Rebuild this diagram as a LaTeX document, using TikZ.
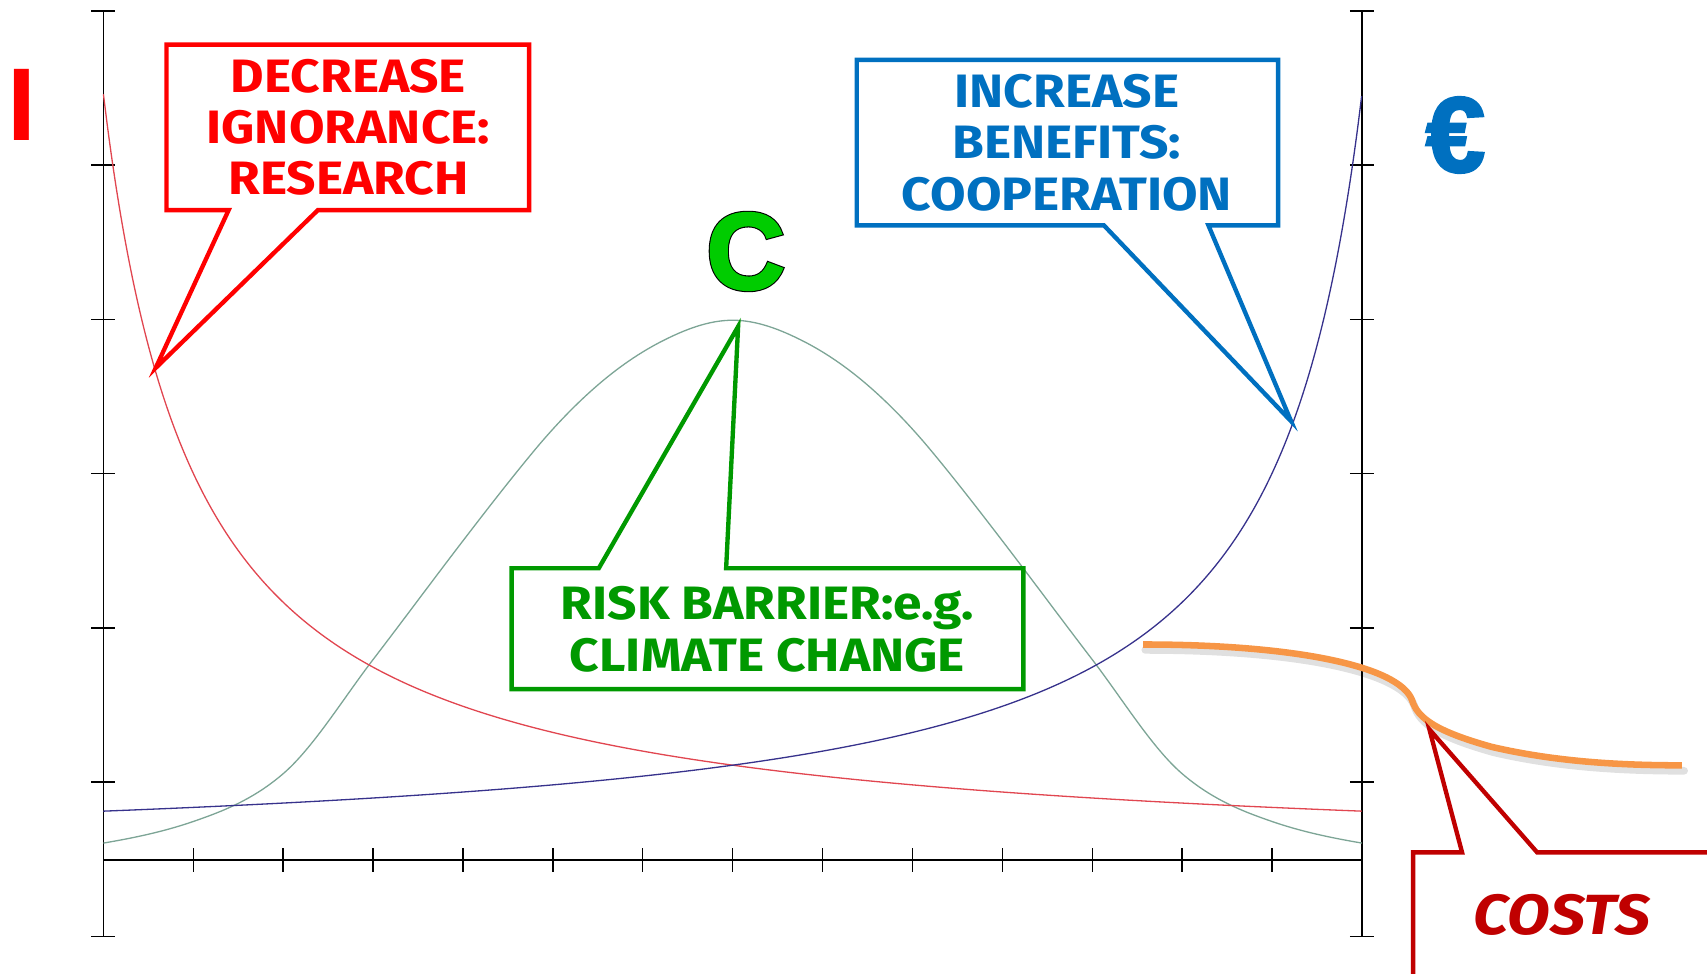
\documentclass[tikz,border=0pt]{standalone}
\usepackage{fontspec}
\setmainfont{Fira Sans}[FakeStretch=1.1]
\newfontfamily\libsans{Liberation Sans}
\newfontfamily\heavyblack{Liberation Sans Bold}[FakeBold=4]
\newfontfamily\heavygreen{Liberation Sans Bold}[FakeBold=2]
\newfontfamily\heavyeuro{Liberation Sans Bold}[FakeBold=2.5]
\definecolor{cred}{RGB}{255,0,0}
\definecolor{cblue}{RGB}{0,112,192}
\definecolor{cgreen}{RGB}{0,153,0}
\definecolor{bigc}{RGB}{0,204,0}
\definecolor{cdark}{RGB}{192,0,0}
\definecolor{corange}{RGB}{247,150,70}
\definecolor{credcurve}{RGB}{225,70,80}
\definecolor{cbluecurve}{RGB}{55,50,140}
\definecolor{cgreencurve}{RGB}{125,165,150}
\begin{document}
\begin{tikzpicture}[x=1pt,y=-1pt,
  axisline/.style={line width=1.3pt,black},
  axtick/.style={line width=1.3pt,black},
  curve/.style={line width=1.2pt},
  callout/.style={line width=4pt,line join=miter,fill=white},
  calltext/.style={font=\fontsize{43}{47}\selectfont\bfseries,align=center,inner sep=0pt},
  bigletter/.style={inner sep=0pt}]
\useasboundingbox (0,0) rectangle (1568,894);
\clip (0,0) rectangle (1568,894);
% axes
\draw[axisline] (95,10) -- (95,860);
\draw[axisline] (1251,10) -- (1251,860);
\draw[axisline] (95,790) -- (1251,790);
\foreach \k in {0,...,6}{
  \draw[axtick] (84,{10+141.67*\k}) -- (106,{10+141.67*\k});
  \draw[axtick] (1240,{10+141.67*\k}) -- (1262,{10+141.67*\k});
}
\foreach \k in {1,...,13}{
  \draw[axtick] ({95+82.57*\k},779) -- ({95+82.57*\k},801);
}
% curves in data coordinates
\begin{scope}[shift={(95,790)},x=82.57pt,y=141.67pt]
\draw[curve,cgreencurve] (0,0.11)
  .. controls (0.333,0.143) and (0.667,0.183) .. (1,0.25)
  .. controls (1.333,0.317) and (1.667,0.393) .. (2,0.56)
  .. controls (2.333,0.727) and (2.667,1.047) .. (3,1.3)
  .. controls (3.333,1.553) and (3.667,1.817) .. (4,2.07)
  .. controls (4.267,2.273) and (4.533,2.473) .. (4.8,2.66)
  .. controls (5.033,2.823) and (5.267,2.963) .. (5.5,3.08)
  .. controls (5.733,3.197) and (5.967,3.29) .. (6.2,3.36)
  .. controls (6.467,3.44) and (6.733,3.5) .. (7,3.5)
  .. controls (7.267,3.5) and (7.533,3.44) .. (7.8,3.36)
  .. controls (8.033,3.29) and (8.267,3.197) .. (8.5,3.08)
  .. controls (8.733,2.963) and (8.967,2.823) .. (9.2,2.66)
  .. controls (9.467,2.473) and (9.733,2.273) .. (10,2.07)
  .. controls (10.333,1.817) and (10.667,1.553) .. (11,1.3)
  .. controls (11.333,1.047) and (11.667,0.727) .. (12,0.56)
  .. controls (12.333,0.393) and (12.667,0.317) .. (13,0.25)
  .. controls (13.333,0.183) and (13.667,0.143) .. (14,0.11);
\draw[curve,credcurve] plot[domain=0:14,samples=300,smooth] (\x,{5.14/(\x+1.03)-0.025});
\draw[curve,cbluecurve] plot[domain=0:14,samples=300,smooth] (\x,{5.14/(15.03-\x)-0.025});
\end{scope}
% orange cost curve with shadow
\draw[line width=7pt,black,opacity=0.12,line cap=round,shift={(2,5)}]
  (1050,592) .. controls (1190,592) and (1285,612) .. (1297,643)
  .. controls (1302,660) and (1320,672) .. (1370,686)
  .. controls (1430,700) and (1490,703) .. (1545,703);
\draw[line width=6pt,corange]
  (1050,592) .. controls (1190,592) and (1285,612) .. (1297,643)
  .. controls (1302,660) and (1320,672) .. (1370,686)
  .. controls (1430,700) and (1490,703) .. (1545,703);
% callouts
\draw[callout,draw=cred] (153,41) -- (486,41) -- (486,193) -- (292,193) -- (143,338) -- (210,193) -- (153,193) -- cycle;
\node[calltext,text=cred] (research) at (320,117) {DECREASE\\IGNORANCE:\\RESEARCH};
\draw[callout,draw=cblue] (787,55) -- (1174,55) -- (1174,207) -- (1110,207) -- (1186,387) -- (1014,207) -- (787,207) -- cycle;
\node[calltext,text=cblue] (coop) at (980,131) {INCREASE\\BENEFITS:\\COOPERATION};
\draw[callout,draw=cgreen] (470,522) -- (550,522) -- (678,300) -- (667,522) -- (940,522) -- (940,633) -- (470,633) -- cycle;
\node[calltext,text=cgreen] (risk) at (705,578) {RISK BARRIER:e.g.\\CLIMATE CHANGE};
\draw[callout,draw=cdark] (1298,930) -- (1298,783) -- (1343,783) -- (1313,670) -- (1412,783) -- (1620,783) -- (1620,930) -- cycle;
\node[calltext,text=cdark,font=\fontsize{52}{56}\selectfont\bfseries\itshape] (costs) at (1435,840) {COSTS};
% big letters
\node[bigletter,text=cred,font=\libsans\fontsize{95}{95}\selectfont\bfseries] (ignorance) at (20,96) {I};
\node[bigletter,text=cblue,font=\heavyeuro\fontsize{98}{98}\selectfont] (euro) at (1337,124) {€};
\node[bigletter,text=black,font=\heavyblack\fontsize{100}{100}\selectfont] (cshadow) at (685,231) {C};
\node[bigletter,text=bigc,font=\heavygreen\fontsize{100}{100}\selectfont] (climate) at (685,231) {C};
\end{tikzpicture}
\end{document}
